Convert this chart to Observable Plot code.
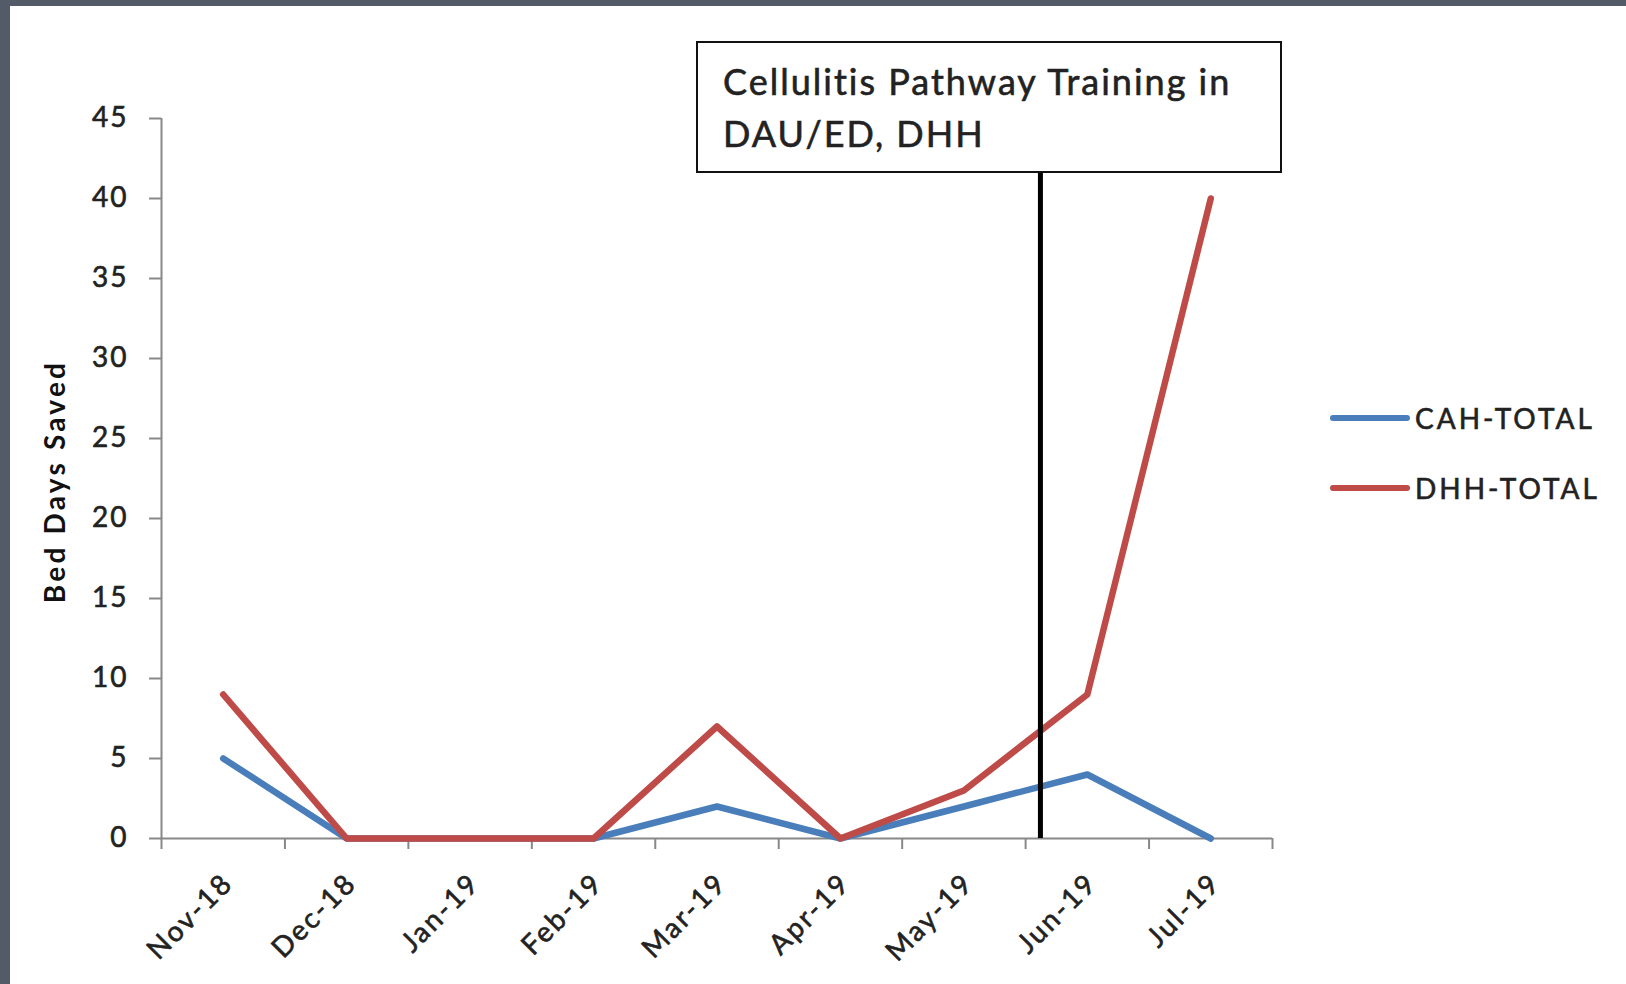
<!DOCTYPE html>
<html><head><meta charset="utf-8">
<script src="https://cdn.jsdelivr.net/npm/d3@7"></script>
<script src="https://cdn.jsdelivr.net/npm/@observablehq/plot@0.6"></script>
<style>
html,body{margin:0;padding:0;background:#545b68;width:1626px;height:984px;overflow:hidden;}
#frame{position:absolute;left:10px;top:6px;width:1616px;height:978px;background:#fff;}
#chart{position:absolute;left:0;top:0;}
#chart g[aria-label="y-axis tick label"]{letter-spacing:2px;stroke:#222;stroke-width:0.6px;}
#chart g[aria-label="x-axis tick label"]{letter-spacing:2.3px;stroke:#222;stroke-width:0.6px;}
#chart g[aria-label="text"]{letter-spacing:3.2px;}
#note{position:absolute;left:686px;top:35px;width:586px;height:132px;border:2px solid #111;background:#fff;
  font-family:Lato,sans-serif;font-size:36px;line-height:52px;letter-spacing:2px;color:#222;-webkit-text-stroke:0.6px #222;box-sizing:border-box;padding:12px 0 0 25px;white-space:nowrap;}
#legend{position:absolute;left:1320px;top:377px;font-family:Lato,sans-serif;font-size:28px;letter-spacing:3px;color:#222;-webkit-text-stroke:0.6px #222;}
.item{display:flex;align-items:center;height:70px;}
.swatch{width:80px;height:6px;border-radius:3px;margin-right:5px;}
</style></head><body><div id="frame"><div id="chart"></div><div id="note"></div><div id="legend"></div></div>
<script>
const months = ["Nov-18","Dec-18","Jan-19","Feb-19","Mar-19","Apr-19","May-19","Jun-19","Jul-19"];
const cahTotal = [5,0,0,0,2,0,2,4,0];
const dhhTotal = [9,0,0,0,7,0,3,9,40];
const seriesNames = ["CAH-TOTAL","DHH-TOTAL"];
const seriesColors = ["#4a7ebb","#be4b48"];
const yTicks = [0,5,10,15,20,25,30,35,40,45];
const yLabel = "Bed Days Saved";
const annotationLines = ["Cellulitis Pathway Training in","DAU/ED, DHH"];
const trainingPosition = 6.62; // between May-19 and Jun-19 (month index)

const rows = [];
[cahTotal, dhhTotal].forEach((vals, s) => vals.forEach((v, i) => rows.push({i, month: months[i], value: v, series: seriesNames[s]})));
const xDomain = [-0.5, months.length - 0.5];
const boundaries = d3.range(xDomain[0], xDomain[1] + 0.01, 1);
const font = "Lato, sans-serif";
const axisGray = "#888888";

const chart = Plot.plot({
  width: 1616, height: 978,
  marginLeft: 151, marginRight: 354, marginTop: 112, marginBottom: 146,
  style: {fontFamily: font, background: "transparent", color: "#222"},
  x: {type: "linear", domain: xDomain},
  y: {domain: [0, 45]},
  color: {domain: seriesNames, range: seriesColors},
  marks: [
    Plot.ruleX([xDomain[0]], {stroke: axisGray, strokeWidth: 2}),
    Plot.ruleY([0], {stroke: axisGray, strokeWidth: 2}),
    Plot.axisY({ticks: yTicks, tickSize: 12, tickPadding: 21, fontSize: 28, stroke: axisGray, strokeWidth: 2, label: null}),
    Plot.axisX({ticks: boundaries, tickSize: 11, tickFormat: () => "", stroke: axisGray, strokeWidth: 2, label: null}),
    Plot.axisX({ticks: d3.range(months.length), tickSize: 0, tickPadding: 40, dx: 5, tickRotate: -45, tickFormat: i => months[i], fontSize: 28, label: null}),
    Plot.text([yLabel], {frameAnchor: "left", textAnchor: "middle", dx: -105, dy: 3, rotate: -90, fontSize: 28, fontWeight: "bold", fill: "#111"}),
    Plot.line(rows, {x: "i", y: "value", z: "series", stroke: "series", strokeWidth: 6.5}),
    Plot.ruleX([trainingPosition], {stroke: "#000", strokeWidth: 5})
  ]
});
document.getElementById("chart").appendChild(chart);
document.getElementById("note").innerHTML = annotationLines.join("<br>");
document.getElementById("legend").innerHTML = seriesNames.map((n, k) =>
  `<div class="item"><div class="swatch" style="background:${seriesColors[k]}"></div><span>${n}</span></div>`).join("");
</script></body></html>
